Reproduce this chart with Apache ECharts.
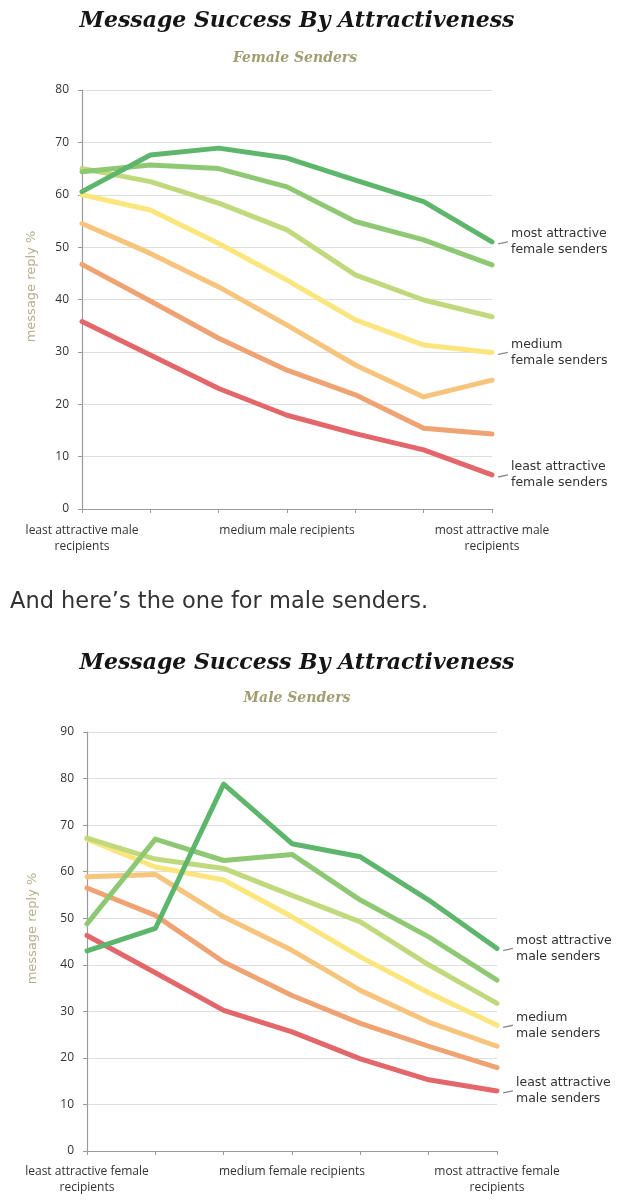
<!DOCTYPE html>
<html>
<head>
<meta charset="utf-8">
<script src="https://cdn.jsdelivr.net/npm/echarts@6/dist/echarts.min.js"></script>
<style>
html,body{margin:0;padding:0;background:#fff;}
#c{width:644px;height:1200px;}
</style>
</head>
<body>
<div id="c"></div>
<script>
// ---- text ----
const mainTitle = 'Message Success By Attractiveness';
const subTitleFemale = 'Female Senders';
const subTitleMale = 'Male Senders';
const paragraph = 'And here\u2019s the one for male senders.';
const yAxisName = 'message reply %';

// ---- categories ----
const catsFemaleChart = ['least attractive male\nrecipients', '', '', 'medium male recipients', '', '', 'most attractive male\nrecipients'];
const catsMaleChart = ['least attractive female\nrecipients', '', '', 'medium female recipients', '', '', 'most attractive female\nrecipients'];

// ---- y ticks ----
const yFemale = { min: 0, max: 80, interval: 10 };
const yMale = { min: 0, max: 90, interval: 10 };

// ---- Female senders (least -> most attractive) ----
const fLeast = [35.8, 29.4, 23.0, 17.9, 14.4, 11.3, 6.5];
const fLow2 = [46.7, 39.7, 32.6, 26.5, 21.8, 15.4, 14.3];
const fLow1 = [54.5, 48.8, 42.4, 35.1, 27.5, 21.4, 24.6];
const fMedium = [60.0, 57.1, 50.7, 43.7, 36.1, 31.3, 29.9];
const fHigh1 = [65.0, 62.5, 58.4, 53.3, 44.7, 39.9, 36.7];
const fHigh2 = [64.4, 65.7, 65.0, 61.5, 54.9, 51.4, 46.6];
const fMost = [60.6, 67.6, 68.9, 67.0, 62.8, 58.7, 51.0];

// ---- Male senders (least -> most attractive) ----
const mLeast = [46.3, 38.3, 30.2, 25.6, 19.8, 15.3, 12.9];
const mLow2 = [56.5, 50.6, 40.6, 33.4, 27.4, 22.5, 17.9];
const mLow1 = [58.9, 59.4, 50.3, 43.1, 34.5, 27.7, 22.5];
const mMedium = [67.0, 61.0, 58.2, 50.3, 41.7, 34.0, 27.0];
const mHigh1 = [67.2, 62.7, 60.7, 54.9, 49.2, 40.0, 31.7];
const mHigh2 = [48.8, 67.0, 62.4, 63.7, 53.9, 46.0, 36.7];
const mMost = [43.0, 47.8, 78.8, 66.0, 63.2, 53.9, 43.5];

// ---- end labels ----
const fLabels = { least: 'least attractive\nfemale senders', medium: 'medium\nfemale senders', most: 'most attractive\nfemale senders' };
const mLabels = { least: 'least attractive\nmale senders', medium: 'medium\nmale senders', most: 'most attractive\nmale senders' };

const colors = ['#e3666a', '#efa272', '#f6c47c', '#fbe57d', '#c0d97d', '#8ec873', '#5db66b'];

const chart = echarts.init(document.getElementById('c'), null, { renderer: 'canvas' });

function makeSeries(dataList, labels, axisIdx) {
  const keys = ['least', null, null, 'medium', null, null, 'most'];
  return dataList.map((d, i) => {
    const key = keys[i];
    const s = {
      type: 'line',
      xAxisIndex: axisIdx, yAxisIndex: axisIdx,
      data: d,
      symbol: 'none',
      smooth: false,
      lineStyle: { width: 5, color: colors[i], join: 'round', cap: 'round' },
      itemStyle: { color: colors[i] },
      z: 2 + i
    };
    if (key) {
      s.endLabel = {
        show: true,
        formatter: labels[key],
        distance: 19,
        color: '#333',
        fontFamily: 'DejaVu Sans',
        fontSize: 12.5,
        lineHeight: 16,
        align: 'left'
      };
      s.markPoint = {
        silent: true,
        symbol: 'rect',
        symbolSize: [10, 1.3],
        symbolRotate: 12,
        symbolOffset: [11, 1],
        itemStyle: { color: '#8a8a8a' },
        label: { show: false },
        data: [{ coord: [d.length - 1, d[d.length - 1]] }]
      };
    }
    return s;
  });
}

function xAxisCfg(cats, idx, margin) {
  return {
    type: 'category', gridIndex: idx, data: cats, boundaryGap: false,
    axisLine: { show: true, lineStyle: { color: '#9a9a9a', width: 1.2 } },
    axisTick: { show: true, interval: 0, length: 4, lineStyle: { color: '#9a9a9a' } },
    axisLabel: { interval: 0, margin: margin, color: '#333', fontFamily: 'Open Sans', fontSize: 12, lineHeight: 16 },
    splitLine: { show: false }
  };
}
function yAxisCfg(cfg, idx, gap) {
  return {
    type: 'value', gridIndex: idx, min: cfg.min, max: cfg.max, interval: cfg.interval,
    name: yAxisName, nameLocation: 'middle', nameGap: gap, nameRotate: 90,
    nameTextStyle: { color: '#b5ae8c', fontFamily: 'DejaVu Sans', fontSize: 13, padding: [0, 0, 0, 26] },
    axisLine: { show: true, lineStyle: { color: '#9a9a9a', width: 1.2 } },
    axisTick: { show: true, length: 4, lineStyle: { color: '#9a9a9a' } },
    axisLabel: { margin: 13, color: '#333', fontFamily: 'Open Sans', fontSize: 12 },
    splitLine: { show: true, lineStyle: { color: '#dedede', width: 1 } }
  };
}

const titleFont = 'italic bold 22px "DejaVu Serif"';
const subFont = 'italic bold 14px "DejaVu Serif"';

const option = {
  animation: false,
  backgroundColor: '#ffffff',
  grid: [
    { left: 82, top: 90, width: 410, height: 419 },
    { left: 87, top: 732, width: 410, height: 419 }
  ],
  xAxis: [xAxisCfg(catsFemaleChart, 0, 14), xAxisCfg(catsMaleChart, 1, 13)],
  yAxis: [yAxisCfg(yFemale, 0, 44), yAxisCfg(yMale, 1, 48)],
  series: [].concat(
    makeSeries([fLeast, fLow2, fLow1, fMedium, fHigh1, fHigh2, fMost], fLabels, 0),
    makeSeries([mLeast, mLow2, mLow1, mMedium, mHigh1, mHigh2, mMost], mLabels, 1)
  ),
  graphic: [
    { type: 'text', x: 297, y: 21, style: { text: mainTitle, font: titleFont, fill: '#151515', align: 'center', verticalAlign: 'middle' } },
    { type: 'text', x: 295, y: 58, style: { text: subTitleFemale, font: subFont, fill: '#a39d73', align: 'center', verticalAlign: 'middle' } },
    { type: 'text', x: 10, y: 602, style: { text: paragraph, font: '22.5px "DejaVu Sans"', fill: '#333', align: 'left', verticalAlign: 'middle' } },
    { type: 'text', x: 297, y: 663, style: { text: mainTitle, font: titleFont, fill: '#151515', align: 'center', verticalAlign: 'middle' } },
    { type: 'text', x: 297, y: 698, style: { text: subTitleMale, font: subFont, fill: '#a39d73', align: 'center', verticalAlign: 'middle' } }
  ]
};
chart.setOption(option);
</script>
</body>
</html>
